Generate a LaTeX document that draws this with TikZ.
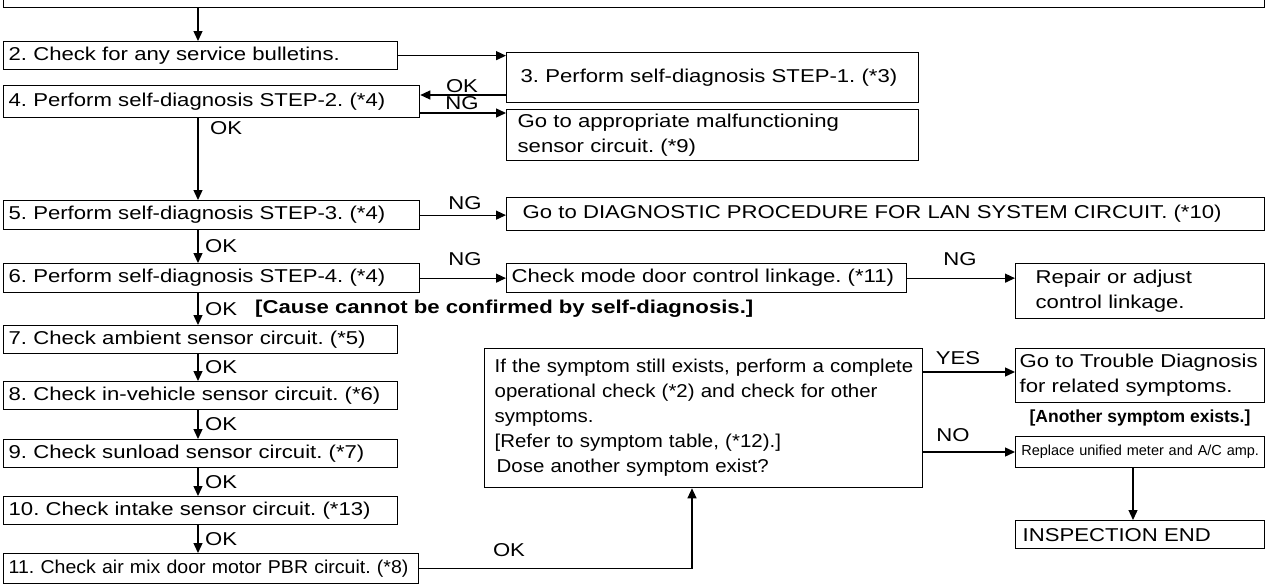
\documentclass[tikz,border=0pt]{standalone}
\usepackage{fontspec}
\setmainfont{Liberation Sans}[FakeStretch=1.19]
\newfontfamily\fbig{Liberation Sans}[FakeStretch=1.10]
\newfontfamily\fcond{Liberation Sans}[FakeStretch=1.05]
\newfontfamily\fplain{Liberation Sans}
\usetikzlibrary{arrows.meta}
\newcommand\fsz{\fontsize{18.6}{25}\selectfont\frenchspacing\hyphenpenalty=10000\exhyphenpenalty=10000}
\begin{document}
\begin{tikzpicture}[x=1pt,y=-1pt,
  box/.style={draw, line width=1.3pt, anchor=north west, inner ysep=0pt, align=left, font=\fsz},
  arr/.style={line width=1.3pt, -{Triangle[length=10pt,width=9pt]}},
  lbl/.style={font=\fsz, inner sep=0pt},
  bold/.style={font=\fsz\bfseries, inner sep=0pt}]
\useasboundingbox (0,0) rectangle (1267,584);
% boxes
\node[draw, line width=1.3pt, anchor=south west, minimum width=1261pt, minimum height=40pt, inner sep=0pt] (b1) at (3,8) {};
\node[box, inner xsep=5pt, text width=384pt, minimum height=28pt] (b2) at (3,41) {2. Check for any service bulletins.};
\node[box, inner xsep=14pt, text width=384pt, minimum height=50pt] (b3) at (506,52) {3. Perform self-diagnosis STEP-1. (*3)};
\node[box, inner xsep=5pt, text width=406pt, minimum height=32pt] (b4) at (3,85) {4. Perform self-diagnosis STEP-2. (*4)};
\node[box, inner xsep=11pt, text width=390pt, minimum height=51pt] (bgo) at (506,109) {Go to appropriate malfunctioning\\sensor circuit. (*9)};
\node[box, inner xsep=5pt, text width=406pt, minimum height=29pt] (b5) at (3,200) {5. Perform self-diagnosis STEP-3. (*4)};
\node[box, inner xsep=16pt, text width=726pt, minimum height=33pt] (blan) at (506,197) {Go to DIAGNOSTIC PROCEDURE FOR LAN SYSTEM CIRCUIT. (*10)};
\node[box, inner xsep=5pt, text width=406pt, minimum height=29pt] (b6) at (3,263) {6. Perform self-diagnosis STEP-4. (*4)};
\node[box, inner xsep=5pt, text width=390pt, minimum height=29pt] (bmode) at (506,263) {Check mode door control linkage. (*11)};
\node[box, inner xsep=20pt, text width=209pt, minimum height=55pt] (brep) at (1015,263) {Repair or adjust\\control linkage.};
\node[box, inner xsep=5pt, text width=384pt, minimum height=28pt] (b7) at (3,325) {7. Check ambient sensor circuit. (*5)};
\node[box, inner xsep=5pt, text width=384pt, minimum height=28pt] (b8) at (3,381) {8. Check in-vehicle sensor circuit. (*6)};
\node[box, inner xsep=5pt, text width=384pt, minimum height=28pt] (b9) at (3,439) {9. Check sunload sensor circuit. (*7)};
\node[box, inner xsep=5pt, text width=384pt, minimum height=28pt] (b10) at (3,496) {10. Check intake sensor circuit. (*13)};
\node[box, inner xsep=5pt, text width=405pt, minimum height=30pt, font=\fcond\fsz] (b11) at (3,553) {11. Check air mix door motor PBR circuit. (*8)};
\node[box, inner xsep=7pt, text width=424pt, minimum height=139pt, font=\fbig\fsz] (big) at (484,348) {\hspace*{3pt}If the symptom still exists, perform a complete\\\hspace*{3pt}operational check (*2) and check for other\\\hspace*{3pt}symptoms.\\\hspace*{3pt}{[}Refer to symptom table, (*12).{]}\\\hspace*{5pt}Dose another symptom exist?};
\node[box, inner xsep=4pt, text width=241pt, minimum height=54pt] (btr) at (1015,348) {Go to Trouble Diagnosis\\for related symptoms.};
\node[box, inner xsep=5pt, text width=239pt, minimum height=31pt, align=center, font=\fplain\fontsize{14.5}{17}\selectfont] (brepl) at (1015,436) {Replace unified meter and A/C amp.};
\node[box, inner xsep=7pt, text width=235pt, minimum height=28pt] (bend) at (1015,520) {INSPECTION END};
% connectors
\draw[arr] (b1.south -| 198,0) -- (b2.north -| 198,0);
\draw[arr] (b2.east) -- (b2.east -| b3.west);
\draw[arr] (b3.west |- 0,95) -- (b4.east |- 0,95);
\node[lbl] (lok1) at (462,86) {OK};
\draw[arr] (b4.east |- 0,113) -- (bgo.west |- 0,113);
\node[lbl] (lng1) at (462,103) {NG};
\draw[arr] (b4.south -| 198,0) -- (b5.north -| 198,0);
\node[lbl, anchor=west] (lok2) at (210,128) {OK};
\draw[arr] (b5.east) -- (b5.east -| blan.west);
\node[lbl] (lng2) at (465,203) {NG};
\draw[arr] (b5.south -| 198,0) -- (b6.north -| 198,0);
\node[lbl, anchor=west] (lok3) at (205,246) {OK};
\draw[arr] (b6.east) -- (b6.east -| bmode.west);
\node[lbl] (lng3) at (465,259) {NG};
\draw[arr] (bmode.east) -- (bmode.east -| brep.west);
\node[lbl] (lng4) at (960,259) {NG};
\draw[arr] (b6.south -| 198,0) -- (b7.north -| 198,0);
\node[lbl, anchor=west] (lok4) at (205,309) {OK};
\node[bold, anchor=west] (cause) at (255,309) {[Cause cannot be confirmed by self-diagnosis.]};
\draw[arr] (b7.south -| 198,0) -- (b8.north -| 198,0);
\node[lbl, anchor=west] (lok5) at (205,367) {OK};
\draw[arr] (b8.south -| 198,0) -- (b9.north -| 198,0);
\node[lbl, anchor=west] (lok6) at (205,424) {OK};
\draw[arr] (b9.south -| 198,0) -- (b10.north -| 198,0);
\node[lbl, anchor=west] (lok7) at (205,482) {OK};
\draw[arr] (b10.south -| 198,0) -- (b11.north -| 198,0);
\node[lbl, anchor=west] (lok8) at (205,539) {OK};
\draw[arr] (b11.east) -| (big.south -| 692,0);
\node[lbl] (lok9) at (509,550) {OK};
\draw[arr] (big.east |- 0,372) -- (btr.west |- 0,372);
\node[lbl] (lyes) at (958,358) {YES};
\draw[arr] (big.east |- 0,452) -- (brepl.west |- 0,452);
\node[lbl] (lno) at (953,435) {NO};
\node[inner sep=0pt, font=\fplain\fontsize{17.5}{20}\selectfont\bfseries] (another) at (1140,418) {[Another symptom exists.]};
\draw[arr] (brepl.south -| 1133,0) -- (bend.north -| 1133,0);
\end{tikzpicture}
\end{document}
